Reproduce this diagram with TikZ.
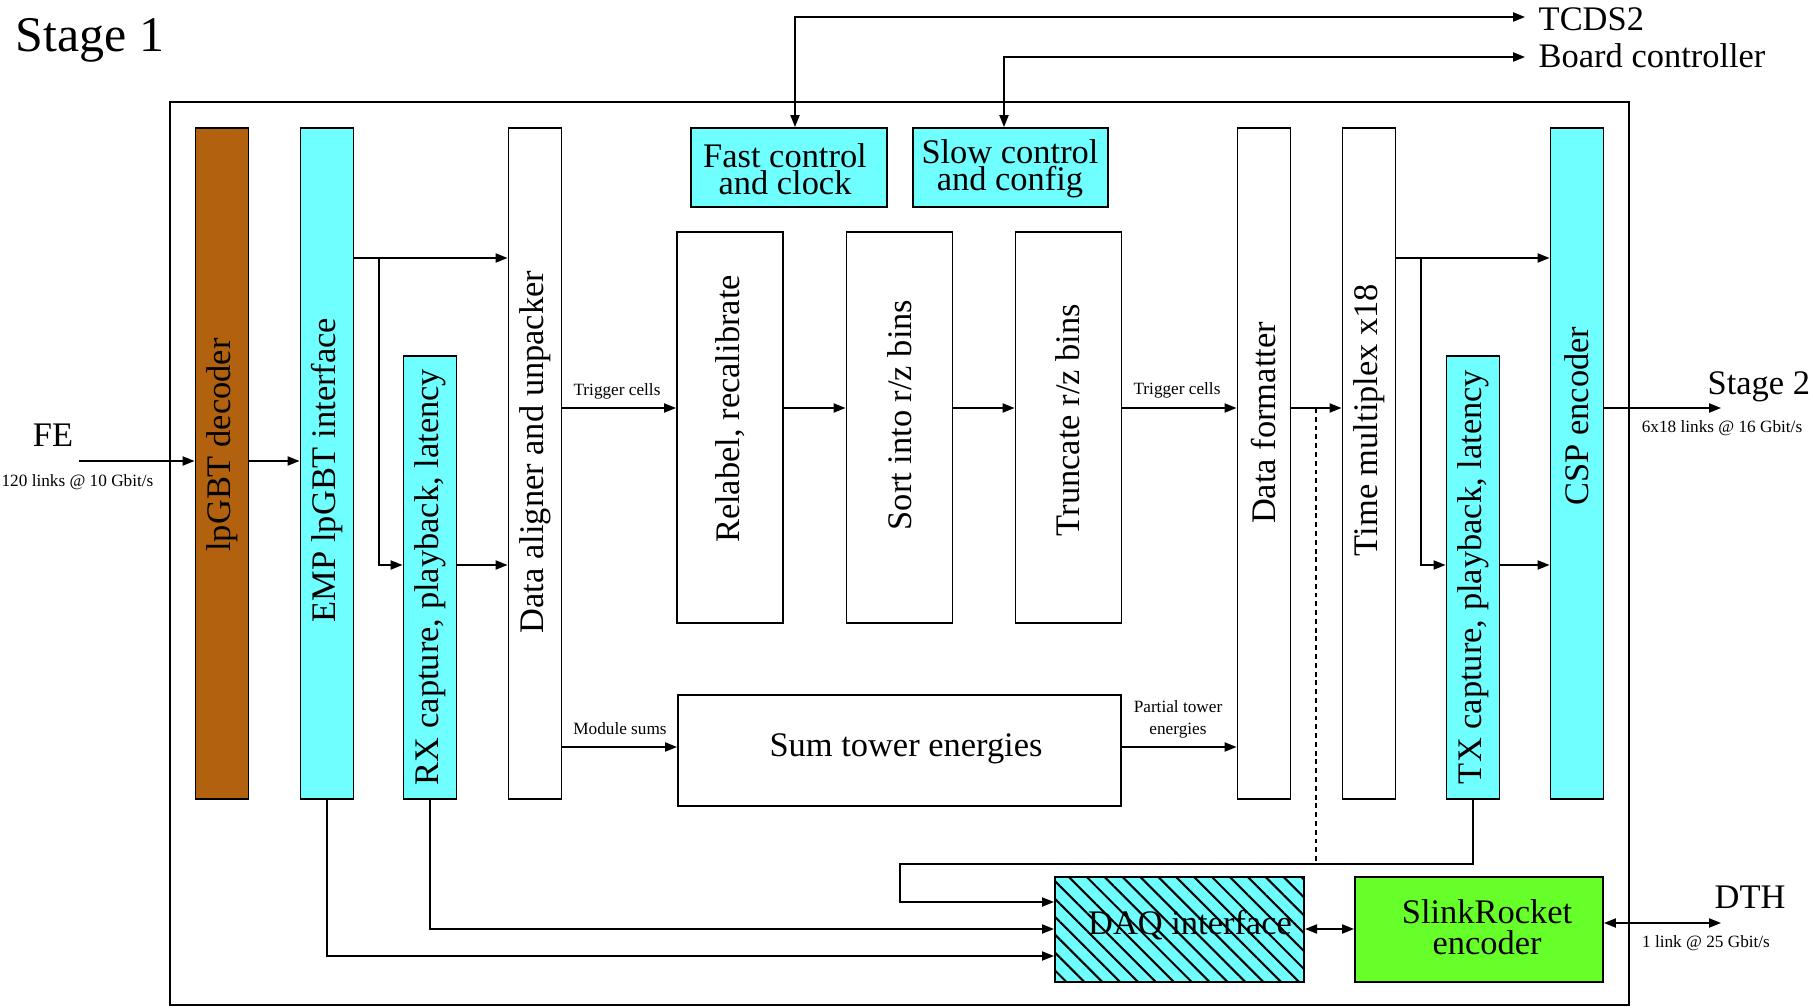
\documentclass[tikz,border=0pt]{standalone}
\usepackage{fontspec}
\setmainfont{Liberation Serif}
\usepackage{xcolor}
\usepackage{tikz}
\usetikzlibrary{arrows.meta,patterns.meta}
\definecolor{DecBrown}{HTML}{B2620F}
\definecolor{EmpCyan}{HTML}{70FFFF}
\definecolor{SlinkGreen}{HTML}{66FF2A}

\begin{document}
\begin{tikzpicture}[x=1cm,y=1cm,
  blk/.style={draw=black,line width=0.55pt,inner sep=0pt},
  colbox/.style={blk,minimum width=0.53cm,minimum height=6.71cm},
  shortcol/.style={blk,minimum width=0.53cm,minimum height=4.43cm},
  stagebox/.style={blk,minimum width=1.06cm,minimum height=3.91cm},
  lbl/.style={font=\fontsize{9.8}{7.6}\selectfont,inner sep=0pt},
  vlbl/.style={lbl,rotate=90},
  note/.style={font=\fontsize{4.9}{6.2}\selectfont,inner sep=0pt,align=center},
  link/.style={line width=0.45pt,-{Triangle[length=3.4pt,width=2.6pt]}},
  both/.style={line width=0.45pt,{Triangle[length=3.4pt,width=2.6pt]}-{Triangle[length=3.4pt,width=2.6pt]}}]
\path[use as bounding box] (0,0) rectangle (18.13,10.07);
\draw[line width=0.75pt] (1.70,0.02) rectangle (16.29,9.05);
\node[anchor=base west,font=\fontsize{14.2}{16}\selectfont,inner sep=0pt] (stageone) at (0.15,9.55) {Stage 1};
% columns
\node[colbox,fill=DecBrown] (lpgbt) at (2.22,5.435) {};
\node[colbox,fill=EmpCyan] (emp) at (3.27,5.435) {};
\node[shortcol,fill=EmpCyan] (rx) at (4.30,4.295) {};
\node[colbox] (align) at (5.35,5.435) {};
\node[colbox] (fmt) at (12.64,5.435) {};
\node[colbox] (tmux) at (13.69,5.435) {};
\node[shortcol,fill=EmpCyan] (tx) at (14.73,4.295) {};
\node[colbox,fill=EmpCyan] (csp) at (15.77,5.435) {};
\node[vlbl] (lpgbtlbl) at (2.22,5.62) {lpGBT decoder};
\node[vlbl] (emplbl) at (3.27,5.37) {EMP lpGBT interface};
\node[vlbl] (rxlbl) at (4.30,4.30) {RX capture, playback, latency};
\node[vlbl] (alignlbl) at (5.35,5.55) {Data aligner and unpacker};
\node[vlbl] (fmtlbl) at (12.64,5.84) {Data formatter};
\node[vlbl] (tmuxlbl) at (13.69,5.87) {Time multiplex x18};
\node[vlbl] (txlbl) at (14.73,4.30) {TX capture, playback, latency};
\node[vlbl] (csplbl) at (15.77,5.91) {CSP encoder};
% processing chain
\node[stagebox] (relabel) at (7.30,5.795) {};
\node[stagebox] (sortbox) at (8.995,5.795) {};
\node[stagebox] (truncate) at (10.685,5.795) {};
\node[vlbl] (relabellbl) at (7.30,5.98) {Relabel, recalibrate};
\node[vlbl] (sortlbl) at (9.00,5.92) {Sort into r/z bins};
\node[vlbl] (truncatelbl) at (10.68,5.87) {Truncate r/z bins};
\node[blk,minimum width=4.43cm,minimum height=1.11cm] (sum) at (8.995,2.565) {};
\node[lbl] (sumlbl) at (9.06,2.58) {Sum tower energies};
% control
\node[blk,fill=EmpCyan,minimum width=1.96cm,minimum height=0.79cm] (fast) at (7.89,8.395) {};
\node[blk,fill=EmpCyan,minimum width=1.95cm,minimum height=0.79cm] (slow) at (10.105,8.395) {};
\node[lbl,align=center] (fastlbl) at (7.85,8.38) {Fast control\\and clock};
\node[lbl,align=center] (slowlbl) at (10.10,8.38) {Slow control\\and config};
% readout
\node[blk,preaction={fill=EmpCyan},pattern={Lines[angle=-45,distance=3.6pt,line width=0.6pt]},pattern color=black,minimum width=2.49cm,minimum height=1.05cm] (daq) at (11.795,0.775) {};
\node[blk,fill=SlinkGreen,minimum width=2.48cm,minimum height=1.05cm] (slink) at (14.79,0.775) {};
\node[lbl] (daqlbl) at (11.90,0.82) {DAQ interface};
\node[lbl,align=center,font=\fontsize{9.8}{8.8}\selectfont] (slinklbl) at (14.87,0.80) {SlinkRocket\\encoder};
% outside labels
\node[lbl,anchor=base] (fe) at (0.53,5.60) {FE};
\node[note] (felinks) at (0.775,5.25) {120 links @ 10 Gbit/s};
\node[lbl,anchor=base west] (tcdslbl) at (15.38,9.76) {TCDS2};
\node[lbl,anchor=base west] (boardlbl) at (15.38,9.39) {Board controller};
\node[lbl,anchor=base west] (stagetwolbl) at (17.07,6.12) {Stage 2};
\node[note] (csplinks) at (17.22,5.79) {6x18 links @ 16 Gbit/s};
\node[lbl,anchor=base west] (dthlbl) at (17.14,0.99) {DTH};
\node[note] (dthlinks) at (17.06,0.64) {1 link @ 25 Gbit/s};
\node[note] (trigleft) at (6.17,6.16) {Trigger cells};
\node[note] (trigright) at (11.77,6.17) {Trigger cells};
\node[note] (modsums) at (6.20,2.78) {Module sums};
\node[note] (partial) at (11.78,2.88) {Partial tower\\energies};
% connectors
\coordinate (rowfe) at (0,5.46);
\coordinate (rowtop) at (0,7.49);
\coordinate (rowmid) at (0,5.99);
\coordinate (rowrx) at (0,4.42);
\coordinate (rowsum) at (0,2.60);
\coordinate (rowdaqa) at (0,1.05);
\coordinate (rowdaqb) at (0,0.78);
\coordinate (rowdaqc) at (0,0.51);
\coordinate (fein) at (0.79,5.46);
\coordinate (empsplit) at (3.79,7.49);
\coordinate (tmuxsplit) at (14.21,7.49);
\coordinate (tapsplit) at (13.16,5.99);
\coordinate (tapend) at (13.16,1.43);
\coordinate (txbend) at (9.00,1.43);
\coordinate (stagetwo) at (17.21,5.99);
\coordinate (dth) at (17.21,0.84);
\coordinate (tcds) at (15.25,9.90);
\coordinate (board) at (15.25,9.50);
\draw[link] (fein) -- (lpgbt.west |- rowfe);
\draw[link] (lpgbt.east |- rowfe) -- (emp.west |- rowfe);
\draw[link] (emp.east |- rowtop) -- (align.west |- rowtop);
\draw[link] (empsplit) |- (rx.west |- rowrx);
\draw[link] (rx.east |- rowrx) -- (align.west |- rowrx);
\draw[link] (align.east |- rowmid) -- (relabel.west |- rowmid);
\draw[link] (relabel.east |- rowmid) -- (sortbox.west |- rowmid);
\draw[link] (sortbox.east |- rowmid) -- (truncate.west |- rowmid);
\draw[link] (truncate.east |- rowmid) -- (fmt.west |- rowmid);
\draw[link] (fmt.east |- rowmid) -- (tmux.west |- rowmid);
\draw[link] (align.east |- rowsum) -- (sum.west |- rowsum);
\draw[link] (sum.east |- rowsum) -- (fmt.west |- rowsum);
\draw[link] (tmux.east |- rowtop) -- (csp.west |- rowtop);
\draw[link] (tmuxsplit) |- (tx.west |- rowrx);
\draw[link] (tx.east |- rowrx) -- (csp.west |- rowrx);
\draw[link] (csp.east |- rowmid) -- (stagetwo);
\draw[line width=0.45pt,dash pattern=on 1.4pt off 1.1pt] (tapsplit) -- (tapend);
\draw[link] (tx.south) |- (txbend) |- (daq.west |- rowdaqa);
\draw[link] (rx.south) |- (daq.west |- rowdaqb);
\draw[link] (emp.south) |- (daq.west |- rowdaqc);
\draw[both] (daq.east |- rowdaqb) -- (slink.west |- rowdaqb);
\draw[both] (slink.east |- dth) -- (dth);
\draw[both] ([xshift=0.06cm]fast.north) |- (tcds);
\draw[both] ([xshift=-0.065cm]slow.north) |- (board);
\end{tikzpicture}
\end{document}
